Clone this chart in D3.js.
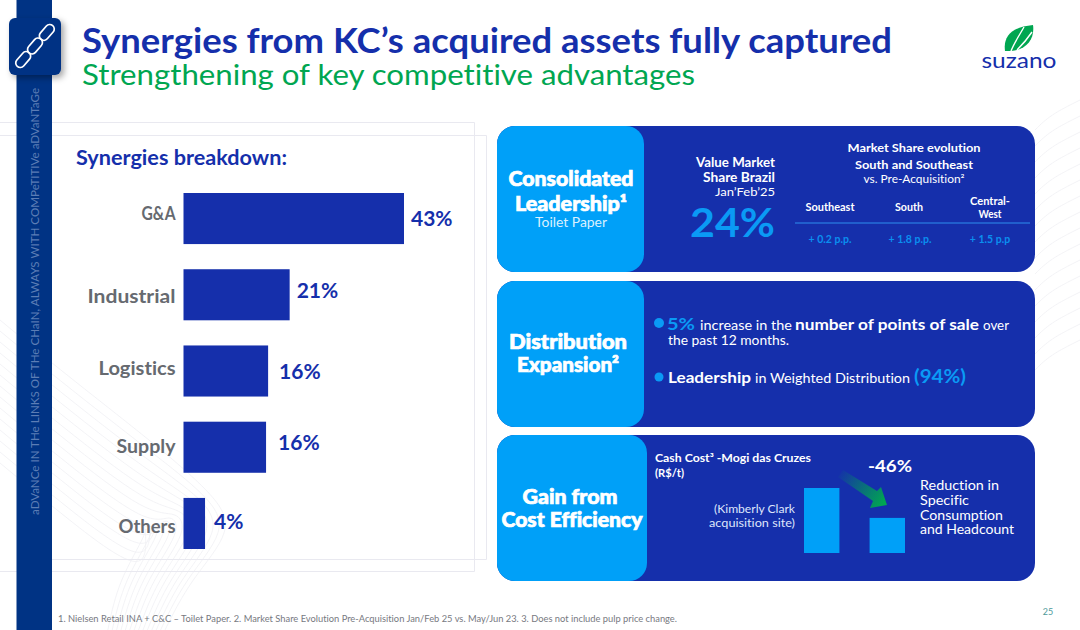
<!DOCTYPE html>
<html>
<head>
<meta charset="utf-8">
<script src="https://cdn.jsdelivr.net/npm/d3@7"></script>
<style>
html,body{margin:0;padding:0;background:#fff}
svg{display:block}
text{font-family:Lato,"Open Sans",sans-serif;font-variant-ligatures:none}
</style>
</head>
<body>
<svg id="chart" width="1080" height="630"></svg>
<script>
const categories=["G&A","Industrial","Logistics","Supply","Others"]
const barValues=[43,20.7,16.5,16.1,4.2]
const barLabels=["43%","21%","16%","16%","4%"]

const costLabels=["Before","After"]
const costValues=[100,54]

const regions=["Southeast","South","Central-West"]
const regionGains=["+ 0.2  p.p.","+ 1.8 p.p.","+ 1.5 p.p"]

const navy="#003384",blue="#152fab",sky="#00a0f8",green="#00a651",grey="#666a70"
const svg=d3.select("#chart")

function put(g,x,y,str,o={}){
  const t=g.append("text").attr("x",x).attr("y",y).text(str)
    .attr("font-size",o.size||12).attr("font-weight",o.weight||400)
    .attr("fill",o.fill||"#fff").attr("text-anchor",o.anchor||"start")
  if(o.width) t.attr("textLength",o.width).attr("lengthAdjust","spacingAndGlyphs")
  if(o.thick) t.attr("stroke",o.fill||"#fff").attr("stroke-width",o.thick)
  return t
}

// background decoration
const defs=svg.append("defs")
const shadow=defs.append("filter").attr("id","shadow").attr("x","-30%").attr("y","-30%").attr("width","170%").attr("height","170%")
shadow.append("feDropShadow").attr("dx",3).attr("dy",3).attr("stdDeviation",3).attr("flood-color","#000").attr("flood-opacity",0.35)
const grad=defs.append("linearGradient").attr("id","arrowGrad")
  .attr("gradientUnits","userSpaceOnUse").attr("x1",838).attr("y1",472).attr("x2",884).attr("y2",503)
grad.append("stop").attr("offset",0).attr("stop-color",blue)
grad.append("stop").attr("offset",1).attr("stop-color","#00a651")

const bg=svg.append("g").attr("fill","none").attr("stroke","#f0f0f4").attr("stroke-width",0.8)
const wave=d3.line().curve(d3.curveBasis)
d3.range(0,14).forEach(i=>{
  const s=i*11
  bg.append("path").attr("d",wave([[0,320+s],[60,370+s],[150,440+s],[215-s*0.5,495+s*0.2],[235-s*0.6,530],[190-s*0.5,580],[165-s*0.4,630]]))
})
d3.range(0,16).forEach(i=>{
  const s=i*16
  bg.append("path").attr("d",wave([[1080,100+s],[1050,115+s],[1035,130+s]]))
})
const frame=svg.append("g").attr("fill","none").attr("stroke","#e9e9f0")
frame.append("path").attr("d","M0,122.5H474.5V571.5H0")
frame.append("path").attr("d","M0,135.5H486.5V559.5H35")

// side band
svg.append("rect").attr("x",16.5).attr("y",0).attr("width",35.5).attr("height",630).attr("fill",navy)
put(svg,0,0,"aDVaNCe IN THe LINKS OF THe CHaIN, ALWAYS WITH COMPeTITIVe aDVaNTaGe",{size:12,fill:"#5c7db5",width:427})
  .attr("transform","translate(39,515) rotate(-90)")
svg.append("rect").attr("x",9).attr("y",18).attr("width",52).attr("height",57).attr("rx",6).attr("fill",navy).attr("filter","url(#shadow)")
const chain=svg.append("g").attr("transform","translate(35,46) rotate(-49)")
  .attr("fill","none").attr("stroke","#fff").attr("stroke-width",1.7)
;[-27,-9,9].forEach(x=>chain.append("rect").attr("x",x).attr("y",-4.5).attr("width",18).attr("height",9).attr("rx",4.5))

// titles
put(svg,82,53,"Synergies from KC’s acquired assets fully captured",{size:34,weight:700,fill:blue,width:810})
put(svg,82,85,"Strengthening of key competitive advantages",{size:28,fill:green,width:613})

// logo
const logo=svg.append("g")
logo.append("path").attr("d","M1005,51C1003,36 1012,27 1033,25C1035,38 1027,50 1011,51Z").attr("fill",green)
logo.append("path").attr("d","M1011,51C1014,43 1019,36 1024,27M1017,50C1023,44 1028,38 1032,32").attr("fill","none").attr("stroke","#fff").attr("stroke-width",1.4)
put(logo,1019,68,"suzano",{size:21,fill:blue,anchor:"middle",width:75})

// main bar chart
put(svg,76,165,"Synergies breakdown:",{size:20,weight:700,fill:blue,width:211})

const x=d3.scaleLinear().domain([0,43]).range([183.5,404])
const y=d3.scaleBand().domain(categories).range([193,549]).paddingInner(0.33)

svg.append("g").selectAll("rect").data(categories).enter().append("rect")
  .attr("x",x(0))
  .attr("y",d=>y(d))
  .attr("width",(d,i)=>x(barValues[i])-x(0))
  .attr("height",y.bandwidth())
  .attr("fill",blue)

const catNudge=[-5,2,-2,0,4]
const catWidth=[34,88,77,59,57]
const yaxis=d3.axisLeft(y).tickSize(0).tickPadding(8)
const yg=svg.append("g").attr("transform",`translate(${x(0)},0)`).call(yaxis)
yg.select(".domain").remove()
yg.selectAll("text").attr("font-size",18).attr("font-weight",700).attr("fill",grey)
  .attr("font-family","Lato,sans-serif")
  .attr("dy",(d,i)=>catNudge[i]+6)
  .attr("textLength",(d,i)=>catWidth[i]).attr("lengthAdjust","spacingAndGlyphs")

const valGap=[7,7,11,12,9]
const valNudge=[0,-4,1,-4,-1]
svg.append("g").selectAll("text").data(barLabels).enter().append("text")
  .attr("x",(d,i)=>x(barValues[i])+valGap[i])
  .attr("y",(d,i)=>y(categories[i])+y.bandwidth()/2+7+valNudge[i])
  .attr("font-size",21).attr("font-weight",700).attr("fill",blue)
  .text(d=>d)

// right cards
const cards=[[126,147],[281,147],[435,150]]
cards.forEach(c=>{
  svg.append("rect").attr("x",497).attr("y",c[0]).attr("width",538).attr("height",146).attr("rx",18).attr("fill",blue)
  svg.append("rect").attr("x",497).attr("y",c[0]).attr("width",c[1]).attr("height",146).attr("rx",18).attr("fill",sky)
})
const head={size:20,weight:900,anchor:"middle",thick:0.7}
put(svg,571,186,"Consolidated",{...head,width:125})
put(svg,571,211,"Leadership¹",{...head,width:112})
put(svg,571,227,"Toilet Paper",{size:12.5,anchor:"middle",fill:"#d9f0ff",width:72})
put(svg,568,349,"Distribution",{...head,width:118})
put(svg,568,372,"Expansion²",{...head,width:102})
put(svg,570,504,"Gain from",{...head,width:95})
put(svg,572,527,"Cost Efficiency",{...head,width:141})

// card 1 text
put(svg,775,167,"Value Market",{size:12.5,weight:700,anchor:"end",width:79})
put(svg,775,182,"Share  Brazil",{size:12.5,weight:700,anchor:"end",width:72})
put(svg,775,196,"Jan’Feb’25",{size:12,anchor:"end",width:60})
put(svg,775,237,"24%",{size:40,weight:700,fill:"#0a9af5",anchor:"end",width:85})
put(svg,914,152,"Market Share evolution",{size:12,weight:700,anchor:"middle",width:133})
put(svg,914,169,"South and Southeast",{size:12,weight:700,anchor:"middle",width:118})
put(svg,914,183,"vs. Pre-Acquisition²",{size:11.5,anchor:"middle",width:101})
const rx=d3.scalePoint().domain(regions).range([830,990])
put(svg,rx("Southeast"),211,"Southeast",{size:10.5,weight:700,anchor:"middle",width:49})
put(svg,909,211,"South",{size:10.5,weight:700,anchor:"middle",width:28})
put(svg,rx("Central-West"),205,"Central-",{size:10.5,weight:700,anchor:"middle",width:40})
put(svg,rx("Central-West"),218,"West",{size:10.5,weight:700,anchor:"middle",width:23})
svg.append("line").attr("x1",795).attr("x2",1030).attr("y1",223).attr("y2",223).attr("stroke","#2f8fee")
regionGains.forEach((d,i)=>put(svg,rx(regions[i]),243,d,{size:10.5,weight:700,fill:"#0a8ff0",anchor:"middle"}))

// card 2 text
svg.append("circle").attr("cx",659).attr("cy",323).attr("r",5).attr("fill","#0a9af5")
svg.append("circle").attr("cx",659).attr("cy",377).attr("r",4.5).attr("fill","#0a9af5")
put(svg,667,330,"5%",{size:17,weight:700,fill:"#0a9af5",width:28})
put(svg,700,330,"increase in the",{size:13,width:92})
put(svg,795,330,"number of points of sale",{size:14.5,weight:700,width:184})
put(svg,983,330,"over",{size:13,width:26})
put(svg,668,345,"the past 12 months.",{size:13,width:121})
put(svg,668,383,"Leadership",{size:15.5,weight:700,width:83})
put(svg,755,383,"in Weighted Distribution",{size:13,width:155})
put(svg,914,383,"(94%)",{size:18,weight:700,fill:"#0a9af5",width:52})

// card 3 text
put(svg,655,462,"Cash Cost³ -Mogi das Cruzes",{size:11.5,weight:700,width:156})
put(svg,655,477,"(R$/t)",{size:11.5,weight:700,width:29})
put(svg,795,513,"(Kimberly Clark",{size:11.5,anchor:"end",fill:"#dfe6fb",width:81})
put(svg,795,527,"acquisition site)",{size:11.5,anchor:"end",fill:"#dfe6fb",width:86})
put(svg,868,472,"-46%",{size:17,weight:700,width:44})
;["Reduction in","Specific","Consumption","and Headcount"].forEach((d,i)=>{
  put(svg,920,[490,505,520,534][i],d,{size:13,width:[79,49,83,94][i]})
})

const cx=d3.scaleBand().domain(costLabels).range([804,905]).paddingInner(0.46)
const cy=d3.scaleLinear().domain([0,100]).range([553,488])
svg.append("g").selectAll("rect").data(costValues).enter().append("rect")
  .attr("x",(d,i)=>cx(costLabels[i]))
  .attr("y",d=>cy(d))
  .attr("width",cx.bandwidth())
  .attr("height",d=>cy(0)-cy(d))
  .attr("fill",sky)
svg.append("path").attr("d","M838,477L843,470L877,491L881,487L887,505L870,508L873,501Z").attr("fill","url(#arrowGrad)")

// footer
put(svg,58,622,"1. Nielsen Retail INA + C&C – Toilet Paper. 2. Market Share Evolution Pre-Acquisition Jan/Feb 25 vs. May/Jun 23. 3. Does not include pulp price change.",{size:9,fill:"#77797f",width:619})
put(svg,1048,615,"25",{size:9,fill:"#4f9a9a",anchor:"middle"})
</script>
</body>
</html>
